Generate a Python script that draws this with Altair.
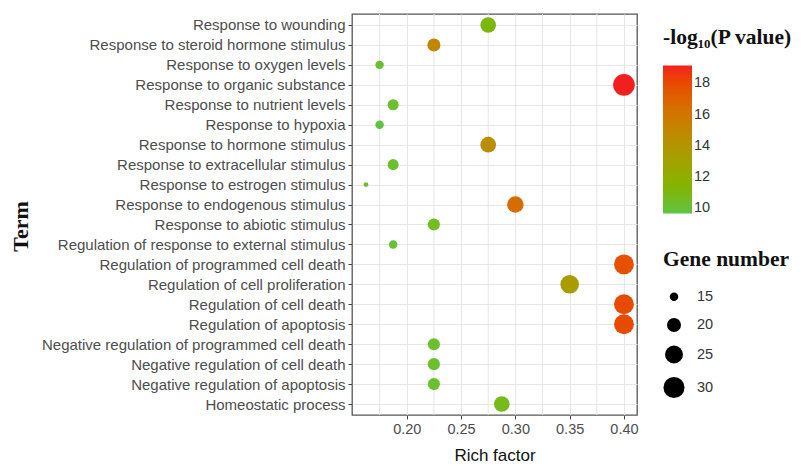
import altair as alt
import pandas as pd

terms = [
    "Response to wounding",
    "Response to steroid hormone stimulus",
    "Response to oxygen levels",
    "Response to organic substance",
    "Response to nutrient levels",
    "Response to hypoxia",
    "Response to hormone stimulus",
    "Response to extracellular stimulus",
    "Response to estrogen stimulus",
    "Response to endogenous stimulus",
    "Response to abiotic stimulus",
    "Regulation of response to external stimulus",
    "Regulation of programmed cell death",
    "Regulation of cell proliferation",
    "Regulation of cell death",
    "Regulation of apoptosis",
    "Negative regulation of programmed cell death",
    "Negative regulation of cell death",
    "Negative regulation of apoptosis",
    "Homeostatic process",
]
rich_factor = [0.275, 0.225, 0.175, 0.400, 0.1875, 0.175, 0.275, 0.1875, 0.1625, 0.300,
               0.225, 0.1875, 0.400, 0.350, 0.400, 0.400, 0.225, 0.225, 0.225, 0.2875]
neg_log_p = [11.0, 15.0, 10.2, 19.15, 10.3, 9.7, 14.6, 10.3, 10.5, 16.5,
             10.6, 10.0, 17.8, 13.5, 18.0, 18.0, 10.3, 10.3, 10.3, 10.8]
gene_number = [22, 19, 15, 31, 17, 15, 22, 17, 13, 23,
               18, 15, 28, 26, 28, 28, 18, 18, 18, 22]

x_major = [0.20, 0.25, 0.30, 0.35, 0.40]
x_minor = [0.175, 0.225, 0.275, 0.325, 0.375]
size_legend_values = [15, 20, 25, 30]
color_legend_values = [10, 12, 14, 16, 18]

df = pd.DataFrame({"Term": terms, "Rich": rich_factor, "P": neg_log_p, "Genes": gene_number})
minor_df = pd.DataFrame({"minor": x_minor})

x_scale = alt.Scale(domain=[0.1496, 0.412], nice=False, zero=False)

grid_minor = alt.Chart(minor_df).mark_rule(color="#e6e6e6", strokeWidth=1).encode(
    x=alt.X("minor:Q", scale=x_scale)
)

points = alt.Chart(df).mark_circle(opacity=1, strokeWidth=0).encode(
    x=alt.X("Rich:Q", scale=x_scale,
            axis=alt.Axis(values=x_major, format=".2f", title="Rich factor",
                          grid=True, gridColor="#e6e6e6", tickSize=4, labelPadding=3,
                          titlePadding=12)),
    y=alt.Y("Term:N", sort=terms, scale=alt.Scale(type="point", padding=0.55),
            axis=alt.Axis(title="Term", grid=True, gridColor="#e6e6e6", tickSize=4,
                          labelPadding=3, labelLimit=500,
                          titleX=-332, titleY=212, titleAngle=270,
                          titleAlign="center", titleBaseline="middle")),
    color=alt.Color("P:Q",
                    scale=alt.Scale(domain=[9.68, 19.15], range=["#5ec441", "#f21f1f"],
                                    interpolate="hcl", nice=False, zero=False),
                    legend=alt.Legend(title="-log₁₀(P value)", values=color_legend_values,
                                      gradientLength=148, gradientThickness=29,
                                      titlePadding=17, padding=13)),
    size=alt.Size("Genes:Q",
                  scale=alt.Scale(domain=[13, 31], range=[22, 470], zero=False, nice=False),
                  legend=alt.Legend(title="Gene number", values=size_legend_values,
                                    symbolFillColor="black", symbolStrokeWidth=0,
                                    symbolType="circle", rowPadding=13, titlePadding=19,
                                    padding=13)),
    order=alt.Order("Genes:Q"),
)

chart = alt.layer(grid_minor, points).properties(
    width=285, height=401,
    autosize=alt.AutoSizeParams(type="none"),
    padding={"left": 344, "top": 6, "right": 162, "bottom": 51},
).configure_view(
    stroke="#555555", strokeWidth=1.3
).configure_axis(
    domain=False,
    labelFont="Liberation Sans", labelFontSize=15, labelColor="#4d4d4d",
    tickColor="#444444",
).configure_axisX(
    titleFont="Liberation Sans", titleFontSize=17, titleFontWeight="normal", titleColor="#111111",
    labelFontSize=14.5,
).configure_axisY(
    titleFont="Liberation Serif", titleFontSize=22, titleFontWeight="bold", titleColor="#111111",
).configure_legend(
    orient="right", offset=13,
    titleFont="Liberation Serif", titleFontSize=21.5, titleFontWeight="bold", titleColor="#111111",
    labelFont="Liberation Sans", labelFontSize=14.5, labelColor="#333333",
    titleLimit=300, labelOffset=12,
)

chart.save("out.html", embed_options={"renderer": "svg", "actions": False})
